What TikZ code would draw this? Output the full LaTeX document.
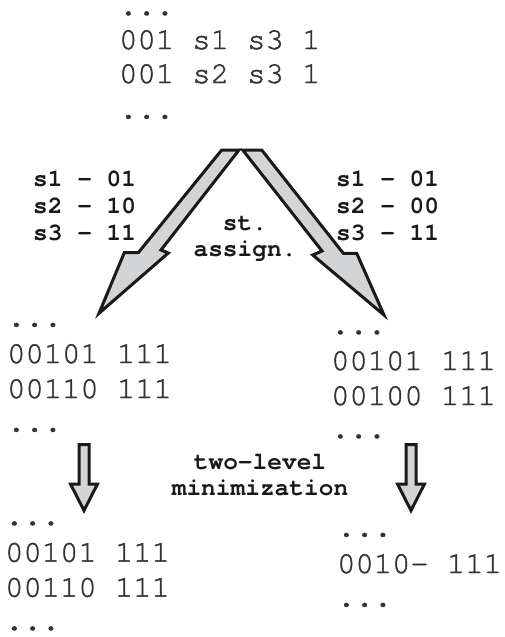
\documentclass[tikz,border=0pt]{standalone}
\usepackage{fontspec}
\newfontfamily\monofont{TeX Gyre Cursor}
\newfontfamily\datafont[FakeBold=1.5]{TeX Gyre Cursor}
\definecolor{arrowgray}{HTML}{D3D4D6}
\tikzset{
  data/.style={anchor=base west, inner sep=0pt, font={\datafont\fontsize{30.5}{35}\selectfont}, text=black!80},
  lbl/.style={anchor=base west, inner sep=0pt, font={\monofont\bfseries\fontsize{24.5}{28}\selectfont}, text=black!90},
  clbl/.style={anchor=base, inner sep=0pt, font={\monofont\bfseries\fontsize{24.5}{28}\selectfont}, text=black!90},
  fatarrow/.style={draw=black!90, line width=3pt, line join=miter, fill=arrowgray}
}
\begin{document}
\begin{tikzpicture}[x=1pt,y=-1pt]
\useasboundingbox (0,0) rectangle (504,637);
% top block
\node[data] (t0) at (119,15) {...};
\node[data] (t1) at (119,49) {001 s1 s3 1};
\node[data] (t2) at (119,83) {001 s2 s3 1};
\node[data] (t3) at (119,118.5) {...};
% labels left
\node[lbl] (la1) at (33,186) {s1 - 01};
\node[lbl] (la2) at (33,213) {s2 - 10};
\node[lbl] (la3) at (33,240) {s3 - 11};
% labels right
\node[lbl] (lb1) at (336,186) {s1 - 01};
\node[lbl] (lb2) at (336,213) {s2 - 00};
\node[lbl] (lb3) at (336,240) {s3 - 11};
% center labels
\node[clbl] (st1) at (245,230.7) {st.};
\node[clbl] (st2) at (245,256.7) {assign.};
\node[clbl] (tl1) at (260,469) {two-level};
\node[clbl] (tl2) at (260,495) {minimization};
% big arrows
\draw[fatarrow] (221.7,150) -- (239,150) -- (161,250) -- (168.3,253) -- (99,313.3) -- (124.3,252.7) -- (138.3,252.7) -- cycle;
\draw[fatarrow] (242.7,150) -- (261.7,150) -- (343.3,253.3) -- (356.7,253.3) -- (384,315) -- (312.7,255) -- (322,251) -- cycle;
% middle left
\node[data] (ml0) at (7,326.5) {...};
\node[data] (ml1) at (7,363) {00101 111};
\node[data] (ml2) at (7,398) {00110 111};
\node[data] (ml3) at (7,431.5) {...};
% middle right
\node[data] (mr0) at (331,334) {...};
\node[data] (mr1) at (331,370) {00101 111};
\node[data] (mr2) at (331,405) {00100 111};
\node[data] (mr3) at (331,438) {...};
% down arrows
\draw[fatarrow] (79,444.5) -- (89,444.5) -- (89,484) -- (97.5,484) -- (84,510.5) -- (70.5,484) -- (79,484) -- cycle;
\draw[fatarrow] (406,444.5) -- (416,444.5) -- (416,484) -- (424.5,484) -- (411,510.5) -- (397.5,484) -- (406,484) -- cycle;
% bottom left
\node[data] (bl0) at (5,525) {...};
\node[data] (bl1) at (5,561.7) {00101 111};
\node[data] (bl2) at (5,596.7) {00110 111};
\node[data] (bl3) at (5,630) {...};
% bottom right
\node[data] (br0) at (337,536.5) {...};
\node[data] (br1) at (337,573) {0010- 111};
\node[data] (br2) at (337,606.5) {...};
\end{tikzpicture}
\end{document}
